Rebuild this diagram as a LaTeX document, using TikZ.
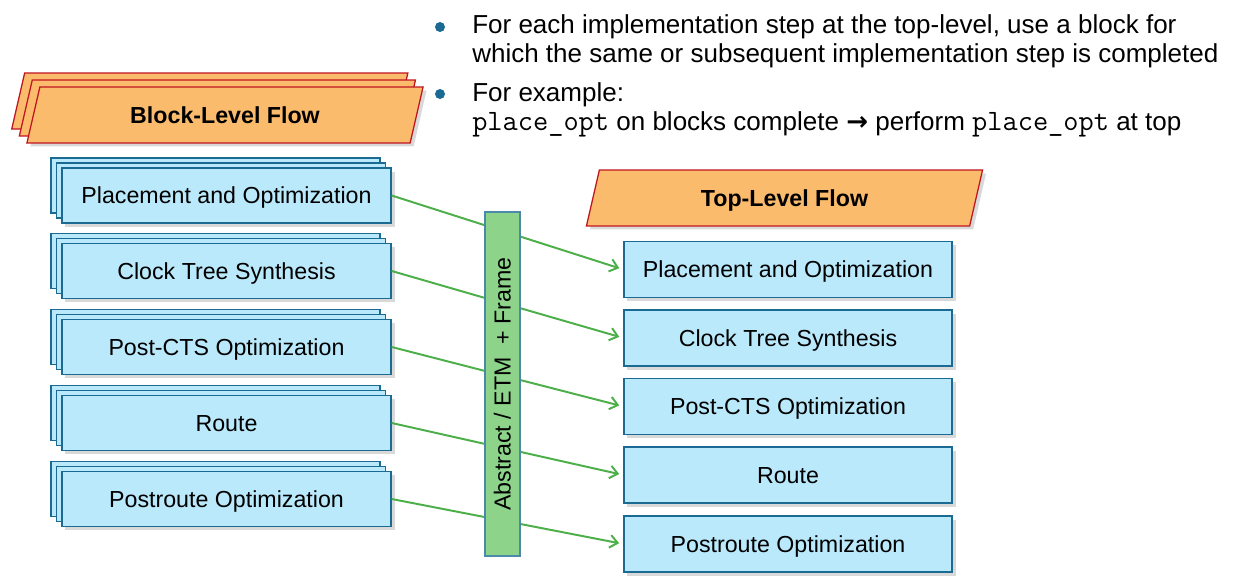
\documentclass[tikz,border=0pt]{standalone}
\usepackage{fontspec}
\setmainfont{Liberation Sans}
\newfontfamily\symfont{DejaVu Sans}
\usetikzlibrary{arrows.meta,shapes.geometric,shadows}
\definecolor{flowfill}{HTML}{FBBB6D}
\definecolor{flowline}{HTML}{C0141E}
\definecolor{stepfill}{HTML}{B9E9FB}
\definecolor{stepline}{HTML}{1A6A94}
\definecolor{barfill}{HTML}{8DD48A}
\definecolor{barline}{HTML}{4A89A8}
\definecolor{linkgreen}{HTML}{4DAF4A}
\definecolor{dotblue}{HTML}{1A6A94}
\newcommand{\cmd}[1]{{\fontsize{21}{20.6}\selectfont\ttfamily #1}}
\tikzset{
  boxfont/.style={font=\fontsize{16.5}{19}\selectfont, text height=14.9pt, text depth=3.5pt},
  softshadow/.style={drop shadow={shadow xshift=2.5pt, shadow yshift=-2.5pt, opacity=0.3}},
  stepbox/.style={boxfont, rectangle, draw=stepline, fill=stepfill, line width=0.9pt,
    minimum width=8.2cm, minimum height=1.4cm, inner sep=0pt, softshadow},
  stackbox/.style={stepbox, minimum width=8.225cm, minimum height=1.375cm,
    general shadow={draw=stepline, fill=stepfill, line width=0.9pt, shadow xshift=-0.275cm, shadow yshift=0.25cm},
    general shadow={draw=stepline, fill=stepfill, line width=0.9pt, shadow xshift=-0.14cm, shadow yshift=0.125cm}},
  flowbox/.style={font=\fontsize{16.5}{19}\selectfont\bfseries, trapezium,
    trapezium left angle=77, trapezium right angle=103, trapezium stretches body=true,
    draw=flowline, fill=flowfill, line width=0.9pt, minimum width=9.9cm,
    text height=12pt, text depth=0pt, inner xsep=0pt, inner ysep=13.9pt, softshadow},
  flowstack/.style={flowbox,
    general shadow={draw=flowline, fill=flowfill, line width=0.9pt, shadow xshift=-0.38cm, shadow yshift=0.35cm},
    general shadow={draw=flowline, fill=flowfill, line width=0.9pt, shadow xshift=-0.19cm, shadow yshift=0.175cm}},
  barbox/.style={boxfont, rectangle, draw=barline, fill=barfill, line width=0.9pt,
    minimum width=8.6cm, minimum height=0.875cm, inner sep=0pt},
  link/.style={draw=linkgreen, line width=1.4pt, -{Straight Barb[length=5.5pt,width=9pt]}, shorten >=3pt},
  dotmark/.style={circle, fill=dotblue, minimum size=0.25cm, inner sep=0pt},
  itemtext/.style={font=\fontsize{18.5}{20.6}\selectfont, align=left, anchor=north west, inner sep=0pt}
}
\begin{document}
\begin{tikzpicture}[x=0.025cm,y=-0.025cm]
   \useasboundingbox (0,0) rectangle (1239,576);
   % bullets
   \node (dotA) [dotmark] at (440,27) {};
   \node (itemA) [itemtext] at (472,14) {For each implementation step at the top-level, use a block for\\which the same or subsequent implementation step is completed};
   \node (dotB) [dotmark] at (440,94) {};
   \node (itemB) [itemtext] at (472,82) {For example:\\\cmd{place\_opt} on blocks complete\ {\symfont\bfseries →}\ perform \cmd{place\_opt} at top};
   % block-level flow
   \node (blockflow) [flowstack] at (225,115) {Block-Level Flow};
   \node (b1) [stackbox] at (226.5,195.5) {Placement and Optimization};
   \node (b2) [stackbox] at (226.5,271) {Clock Tree Synthesis};
   \node (b3) [stackbox] at (226.5,347) {Post-CTS Optimization};
   \node (b4) [stackbox] at (226.5,423) {Route};
   \node (b5) [stackbox] at (226.5,499) {Postroute Optimization};
   % top-level flow
   \node (topflow) [flowbox] at (784.5,198) {Top-Level Flow};
   \node (t1) [stepbox] at (788,269.5) {Placement and Optimization};
   \node (t2) [stepbox] at (788,338) {Clock Tree Synthesis};
   \node (t3) [stepbox] at (788,406.5) {Post-CTS Optimization};
   \node (t4) [stepbox] at (788,475) {Route};
   \node (t5) [stepbox] at (788,544) {Postroute Optimization};
   % links
   \draw [link] (b1.east) -- (t1.west);
   \draw [link] (b2.east) -- (t2.west);
   \draw [link] (b3.east) -- (t3.west);
   \draw [link] (b4.east) -- (t4.west);
   \draw [link] (b5.east) -- (t5.west);
   % abstraction bar
   \node (abstract) [barbox, rotate=90] at (502.5,384) {Abstract / ETM\ \ + Frame};
\end{tikzpicture}
\end{document}
